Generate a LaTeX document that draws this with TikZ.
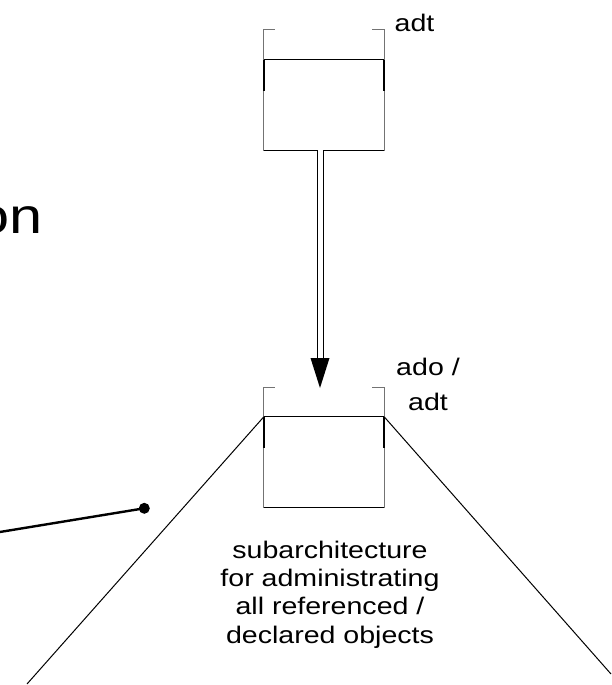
\documentclass[tikz,border=0pt]{standalone}
\usepackage{fontspec}
\setmainfont{Liberation Sans}[FakeStretch=1.19]
\usetikzlibrary{calc}
\begin{document}
\begin{tikzpicture}[x=1pt,y=-1pt,
  thinline/.style={draw=black!55, line width=1pt},
  edgeline/.style={draw=black, line width=1pt},
  sidemark/.style={draw=black, line width=2.4pt},
  boxbody/.style={rectangle, minimum width=120pt, minimum height=90pt, inner sep=0pt},
  label/.style={inner sep=0pt, font=\fontsize{24}{28.3}\selectfont},
  dbl/.style={double, double distance=5pt, line width=1pt},
  slope/.style={draw=black, line width=1pt},
  feeder/.style={draw=black, line width=2.4pt}
]
\useasboundingbox (0,0) rectangle (612,685);

% component boxes
\node[boxbody] (top) at (324,105) {};
\node[boxbody] (bot) at (324,462) {};

\foreach \b/\h in {top/30, bot/29} {
  % box outline: grey sides, dark top and bottom edges
  \draw[thinline] (\b.north west) -- (\b.south west) -- (\b.south east) -- (\b.north east);
  \draw[edgeline] (\b.north west) -- (\b.north east);
  \draw[edgeline] (\b.south west) -- (\b.south east);
  % heavier upper parts of the sides
  \draw[sidemark] (\b.north west) -- ++(0,31);
  \draw[sidemark] (\b.north east) -- ++(0,31);
  % bracket above the box
  \draw[thinline] ($(\b.north west)+(11,-\h)$) -- ($(\b.north west)+(0,-\h)$) -- (\b.north west);
  \draw[thinline] ($(\b.north east)+(-12,-\h)$) -- ($(\b.north east)+(0,-\h)$) -- (\b.north east);
}

% double-line arrow from the upper box to the lower one
\coordinate (tip) at (320,388);
\coordinate (shaftend) at (320,358);
\draw[dbl] (top.south -| shaftend) -- (shaftend);
\fill (tip) -- ($(shaftend)+(-9.5,0)$) -- ($(shaftend)+(9.5,0)$) -- cycle;

% spreading lines below the lower box
\coordinate (leftfoot) at (27,684);
\coordinate (rightfoot) at (611,674);
\draw[slope] (bot.north west) -- (leftfoot);
\draw[slope] (bot.north east) -- (rightfoot);

% pointer ending in a dot
\node[circle, fill=black, minimum size=11pt, inner sep=0pt] (dot) at (144.3,508.3) {};
\coordinate (feedstart) at (-2,532.3);
\draw[feeder] (feedstart) -- (dot.center);

% labels (base anchor of a multi-line node = baseline of its last line)
\node[label, anchor=base west] (adttop) at (394.5,32) {adt};
\node[label, anchor=base, align=center, font=\fontsize{24}{35}\selectfont] (adobot) at (428,410) {ado /\\adt};
\node[label, anchor=base, align=center] (sublabel) at (330,643)
  {subarchitecture\\for administrating\\all referenced /\\declared objects};
\node[inner sep=0pt, anchor=base west, font=\fontsize{50}{60}\selectfont] (partial) at (-24,233) {on};
\end{tikzpicture}
\end{document}
